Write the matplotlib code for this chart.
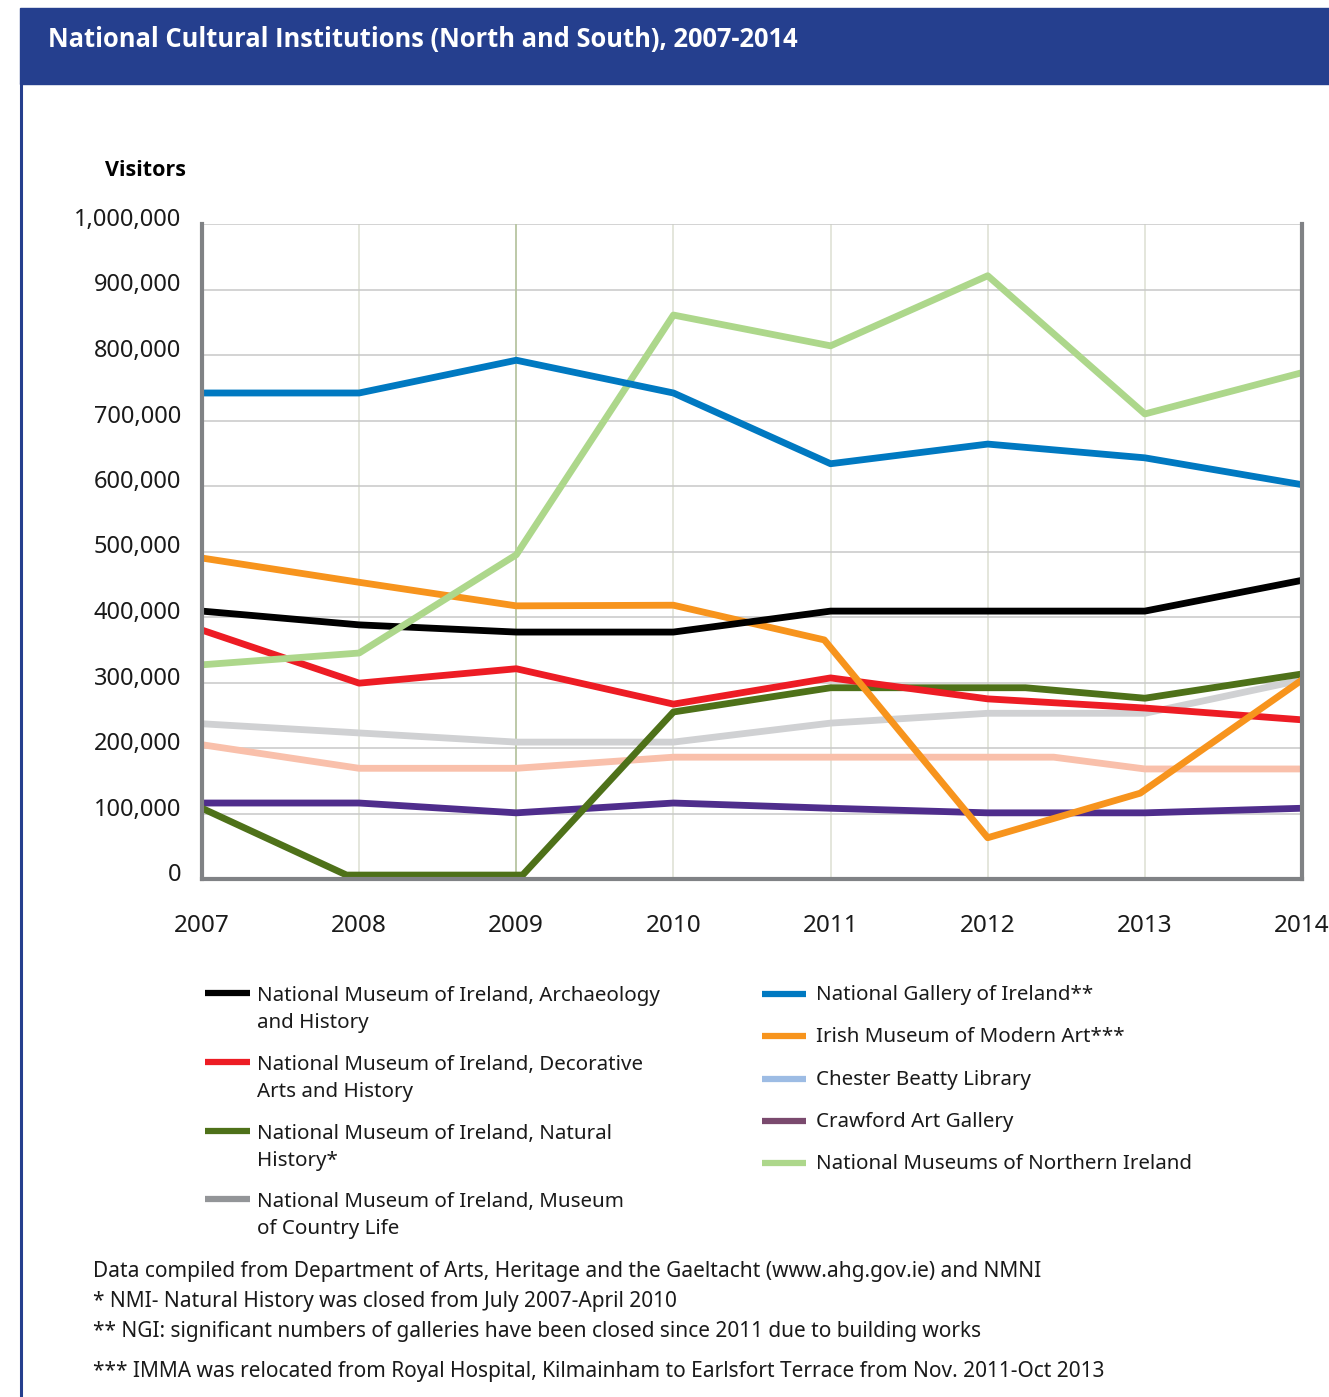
import matplotlib.pyplot as plt
import matplotlib.transforms as mtransforms
from matplotlib.lines import Line2D
from matplotlib.patches import Rectangle

plt.rcParams['font.family'] = ['Noto Sans', 'DejaVu Sans']

W, H = 1329, 1397

years = [2007, 2008, 2009, 2010, 2011, 2012, 2013, 2014]

# visitors per institution
archaeology = [409000, 388000, 377000, 377000, 409000, 409000, 409000, 456000]
decorative = [380000, 299000, 321000, 267000, 307000, 275000, 261000, 243000]
natural_x = [2007, 2007.92, 2009.04, 2010, 2011, 2012.24, 2013, 2014]
natural = [108000, 6000, 6000, 255000, 292000, 292000, 276000, 313000]
country_life = [237000, 223000, 209000, 209000, 238000, 253000, 253000, 304000]
gallery = [742000, 742000, 792000, 742000, 634000, 664000, 643000, 602000]
imma_x = [2007, 2008, 2009, 2010, 2010.96, 2012, 2012.97, 2014]
imma = [490000, 453000, 417000, 418000, 365000, 63000, 131000, 304000]
beatty_x = [2007, 2008, 2009, 2010, 2011, 2012, 2012.42, 2013, 2014]
beatty = [205000, 169000, 169000, 186000, 186000, 186000, 186000, 168000, 168000]
crawford = [116000, 116000, 101000, 116000, 108000, 101000, 101000, 108000]
nmni = [327000, 345000, 495000, 861000, 814000, 921000, 710000, 773000]

yticks = [0, 100000, 200000, 300000, 400000, 500000, 600000, 700000, 800000, 900000, 1000000]
ytick_labels = ['0', '100,000', '200,000', '300,000', '400,000', '500,000', '600,000',
                '700,000', '800,000', '900,000', '1,000,000']

left_labels = ['National Museum of Ireland, Archaeology\nand History',
               'National Museum of Ireland, Decorative\nArts and History',
               'National Museum of Ireland, Natural\nHistory*',
               'National Museum of Ireland, Museum\nof Country Life']
left_colors = ['#000000', '#ed1c24', '#4e7119', '#939598']
right_labels = ['National Gallery of Ireland**', 'Irish Museum of Modern Art***',
                'Chester Beatty Library', 'Crawford Art Gallery',
                'National Museums of Northern Ireland']
right_colors = ['#0079c1', '#f7941d', '#9dbce4', '#7a4a6e', '#add78b']

notes = ['Data compiled from Department of Arts, Heritage and the Gaeltacht (www.ahg.gov.ie) and NMNI',
         '* NMI- Natural History was closed from July 2007-April 2010',
         '** NGI: significant numbers of galleries have been closed since 2011 due to building works',
         '*** IMMA was relocated from Royal Hospital, Kilmainham to Earlsfort Terrace from Nov. 2011-Oct 2013']


def fx(x):
    return x / W


def fy(y):
    return 1 - y / H


fig = plt.figure(figsize=(W / 100, H / 100), dpi=100)

# header band and left border
fig.add_artist(Rectangle((fx(20), fy(84)), fx(1329) - fx(20), fy(8) - fy(84),
                         transform=fig.transFigure, color='#253f8e', zorder=0))
fig.add_artist(Line2D([fx(21), fx(21)], [fy(84), 0], transform=fig.transFigure,
                      color='#253f8e', lw=2.2))
fig.text(fx(48), fy(39), 'National Cultural Institutions (North and South), 2007-2014',
         color='white', fontsize=18.4, fontweight='bold', va='center', ha='left',
         family=['Open Sans', 'DejaVu Sans'])

ax = fig.add_axes([fx(202), fy(879), fx(1302) - fx(202), fy(224) - fy(879)])

lw = 4.9
ax.plot(years, crawford, color='#4f2d8c', lw=lw, solid_capstyle='butt')
ax.plot(beatty_x, beatty, color='#f9c0ab', lw=lw, solid_capstyle='butt')
ax.plot(years, country_life, color='#d0d1d3', lw=lw, solid_capstyle='butt')
ax.plot(natural_x, natural, color='#4e7119', lw=lw, solid_capstyle='butt')
ax.plot(years, decorative, color='#ed1c24', lw=lw, solid_capstyle='butt')
ax.plot(imma_x, imma, color='#f7941d', lw=lw, solid_capstyle='butt')
ax.plot(years, archaeology, color='#000000', lw=lw, solid_capstyle='butt')
ax.plot(years, nmni, color='#add78b', lw=lw, solid_capstyle='butt')
ax.plot(years, gallery, color='#0079c1', lw=lw, solid_capstyle='butt')

ax.set_xlim(2007, 2014)
ax.set_ylim(0, 1000000)
ax.set_xticks(years)
ax.set_xticklabels([str(y) for y in years])
ax.set_yticks(yticks)
ax.set_yticklabels(ytick_labels)
ax.tick_params(length=0, colors='#1a1a1a')
ax.tick_params(axis='x', pad=25, labelsize=17.5)
ax.tick_params(axis='y', pad=15, labelsize=17)
up = mtransforms.ScaledTranslation(0, 7 / 100, fig.dpi_scale_trans)
for lab in ax.get_yticklabels():
    lab.set_transform(lab.get_transform() + up)

ax.grid(axis='y', color='#c8c8c8', lw=1.1)
ax.grid(axis='x', color='#dcdfd2', lw=1.1)
ax.axvline(2009, color='#b3c29c', lw=1.1, zorder=0.6)
ax.set_axisbelow(True)

for side in ['left', 'bottom', 'right']:
    ax.spines[side].set_color('#808285')
    ax.spines[side].set_linewidth(3)
ax.spines['top'].set_visible(False)

fig.text(fx(105), fy(170), 'Visitors', fontsize=15.5, fontweight='bold', va='center', ha='left',
         family=['Open Sans', 'DejaVu Sans'])

# legend, left column
left_y = [993, 1062, 1131, 1199]
for lab, col, y in zip(left_labels, left_colors, left_y):
    fig.add_artist(Line2D([fx(205), fx(250)], [fy(y), fy(y)], transform=fig.transFigure,
                          color=col, lw=4.5, solid_capstyle='butt'))
    for i, line in enumerate(lab.split('\n')):
        fig.text(fx(257), fy(y + 3 + i * 27), line, fontsize=14.8, va='center', ha='left', color='#1a1a1a')

# legend, right column
right_y = [993, 1035, 1078, 1120, 1162]
for lab, col, y in zip(right_labels, right_colors, right_y):
    fig.add_artist(Line2D([fx(762), fx(806)], [fy(y + 1), fy(y + 1)], transform=fig.transFigure,
                          color=col, lw=4.5, solid_capstyle='butt'))
    fig.text(fx(816), fy(y + 2), lab, fontsize=14.8, va='center', ha='left', color='#1a1a1a')

notes_y = [1271, 1301, 1332, 1371]
for t, y in zip(notes, notes_y):
    fig.text(fx(93), fy(y), t, fontsize=15, va='center', ha='left', color='#1a1a1a')

fig.savefig('out.png', dpi=100, facecolor='white')
